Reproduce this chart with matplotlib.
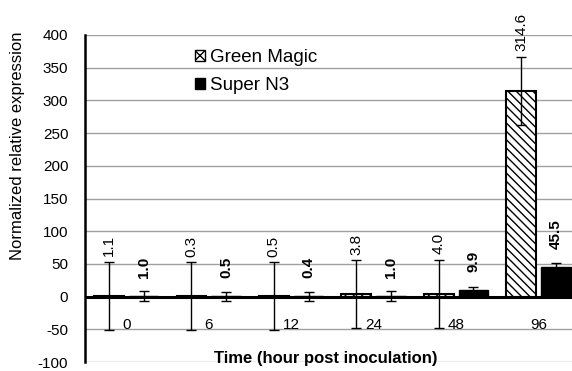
import matplotlib
matplotlib.use("Agg")
import matplotlib.pyplot as plt
import numpy as np
from matplotlib.patches import Patch

plt.rcParams['font.family'] = ['Liberation Sans', 'DejaVu Sans']
plt.rcParams['hatch.linewidth'] = 1.0
plt.rcParams['axes.unicode_minus'] = False

times = ['0', '6', '12', '24', '48', '96']
green_magic = [1.1, 0.3, 0.5, 3.8, 4.0, 314.6]
green_magic_err = [52, 52, 52, 52, 52, 52]
super_n3 = [1.0, 0.5, 0.4, 1.0, 9.9, 45.5]
super_n3_err = [7, 7, 7, 7, 5, 5.5]

fig = plt.figure(figsize=(5.72, 3.71), dpi=100)
ax = fig.add_axes([85 / 572, 1 - 362 / 371, 1 - 85 / 572, (362 - 35) / 371])

x = np.arange(len(times))
w = 0.36
off = 0.21

ax.bar(x - off, green_magic, w, color='white', edgecolor='black',
       linewidth=1.5, hatch='\\\\\\\\', zorder=3)
ax.bar(x + off, super_n3, w, color='black', edgecolor='black',
       linewidth=1.0, zorder=3)
ax.errorbar(x - off, green_magic, yerr=green_magic_err, fmt='none',
            ecolor='black', elinewidth=1.0, capsize=3.5, capthick=1.0, zorder=4)
ax.errorbar(x + off, super_n3, yerr=super_n3_err, fmt='none',
            ecolor='black', elinewidth=1.0, capsize=3.5, capthick=1.0, zorder=4)

ax.axhline(0, color='black', lw=2.2, zorder=5)

# value labels
for xi, v, e in zip(x, green_magic, green_magic_err):
    ax.annotate(f"{v:.1f}", xy=(xi - off, v + e), xytext=(0, 4),
                textcoords='offset points', rotation=90, ha='center',
                va='bottom', fontsize=11)
for xi, v in zip(x, super_n3):
    ax.annotate(f"{v:.1f}", xy=(xi + off, v), xytext=(0, 13),
                textcoords='offset points', rotation=90, ha='center',
                va='bottom', fontsize=11, fontweight='bold')

# category labels sit inside the plot below zero
for xi, t in zip(x, times):
    ax.text(xi, -43, t, ha='center', va='center', fontsize=11)

ax.set_xlim(-0.5, 5.405)
ax.set_ylim(-100, 400)
ax.set_yticks(np.arange(-100, 401, 50))
ax.set_xticks([])
ax.tick_params(axis='y', length=0, labelsize=11, pad=12)
ax.yaxis.grid(True, color='#a0a0a0', lw=1.0, zorder=0)
ax.set_axisbelow(True)
for s in ['top', 'right', 'bottom']:
    ax.spines[s].set_visible(False)
ax.spines['left'].set_linewidth(1.8)
ax.spines['left'].set_zorder(6)

fig.text(18 / 572, 1 - 146 / 371, 'Normalized relative expression',
         rotation=90, ha='center', va='center', fontsize=12)
fig.text(326 / 572, 1 - 359 / 371, 'Time (hour post inoculation)',
         ha='center', va='center', fontsize=12, fontweight='bold')

handles = [Patch(facecolor='white', edgecolor='black', hatch='xxx', label='Green Magic'),
           Patch(facecolor='black', edgecolor='black', label='Super N3')]
ax.legend(handles=handles, loc='upper left', bbox_to_anchor=(195 / 572, 1 - 49 / 371),
          bbox_transform=fig.transFigure, frameon=False, fontsize=13.5,
          handlelength=0.55, handleheight=0.55, handletextpad=0.25,
          labelspacing=0.6, borderpad=0, borderaxespad=0)

fig.savefig('out.png', dpi=100)
